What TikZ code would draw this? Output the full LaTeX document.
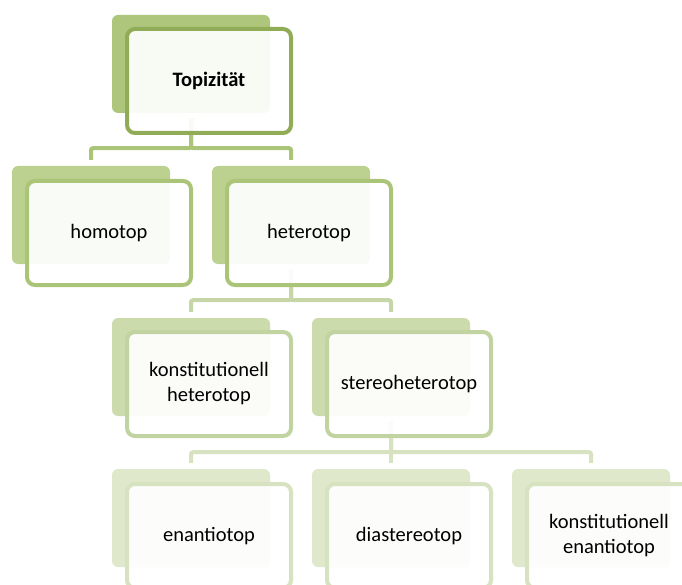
\documentclass[tikz,border=0pt]{standalone}
\usepackage{fontspec}
\setmainfont{Carlito}
\definecolor{shadowA}{RGB}{174,198,123}
\definecolor{lineA}{RGB}{145,172,86}
\definecolor{shadowB}{RGB}{188,208,143}
\definecolor{lineB}{RGB}{170,196,120}
\definecolor{shadowC}{RGB}{204,219,171}
\definecolor{lineC}{RGB}{193,211,160}
\definecolor{shadowD}{RGB}{224,232,204}
\definecolor{lineD}{RGB}{214,226,192}
\begin{document}
\begin{tikzpicture}[x=1pt,y=-1pt,
        back/.style={rounded corners=6pt,minimum width=158pt,minimum height=98pt,inner sep=0pt},
        card/.style={draw,line width=4pt,rounded corners=8pt,fill=white,fill opacity=0.92,text opacity=1,
            minimum width=164pt,minimum height=104pt,inner sep=0pt,align=center,
            font=\fontsize{20.5}{25}\selectfont},
        link/.style={line width=4pt,rounded corners=2pt,shorten <=5pt,shorten >=6pt}]
    \useasboundingbox (0,0) rectangle (682,585);
    \clip (0,0) rectangle (682,585);
    % shadows
    \node[back,fill=shadowA] (top) at (191,64) {};
    \node[back,fill=shadowB] (homo) at (91,215) {};
    \node[back,fill=shadowB] (hetero) at (291,215) {};
    \node[back,fill=shadowC] (konst) at (191,367) {};
    \node[back,fill=shadowC] (stereo) at (391,367) {};
    \node[back,fill=shadowD] (enant) at (191,518) {};
    \node[back,fill=shadowD] (dia) at (391,518) {};
    \node[back,fill=shadowD] (konen) at (591,518) {};
    % connectors
    \foreach \child in {homo,hetero}
        \draw[link,draw=lineB] (top.south) -- ++(0,35) -| (\child.north);
    \foreach \child in {konst,stereo}
        \draw[link,draw=lineC!85!shadowD] (hetero.south) -- ++(0,36) -| (\child.north);
    \foreach \child in {enant,dia,konen}
        \draw[link,draw=lineD] (stereo.south) -- ++(0,36) -| (\child.north);
    % cards
    \node[card,draw=lineA] (topcard) at (209,81) {\textbf{Topizität}};
    \node[card,draw=lineB] (homocard) at (109,233) {homotop};
    \node[card,draw=lineB] (heterocard) at (309,233) {heterotop};
    \node[card,draw=lineC] (konstcard) at (209,384) {konstitutionell\\heterotop};
    \node[card,draw=lineC] (stereocard) at (409,384) {stereoheterotop};
    \node[card,draw=lineD] (enantcard) at (209,536) {enantiotop};
    \node[card,draw=lineD] (diacard) at (409,536) {diastereotop};
    \node[card,draw=lineD] (konencard) at (609,536) {konstitutionell\\enantiotop};
\end{tikzpicture}
\end{document}
